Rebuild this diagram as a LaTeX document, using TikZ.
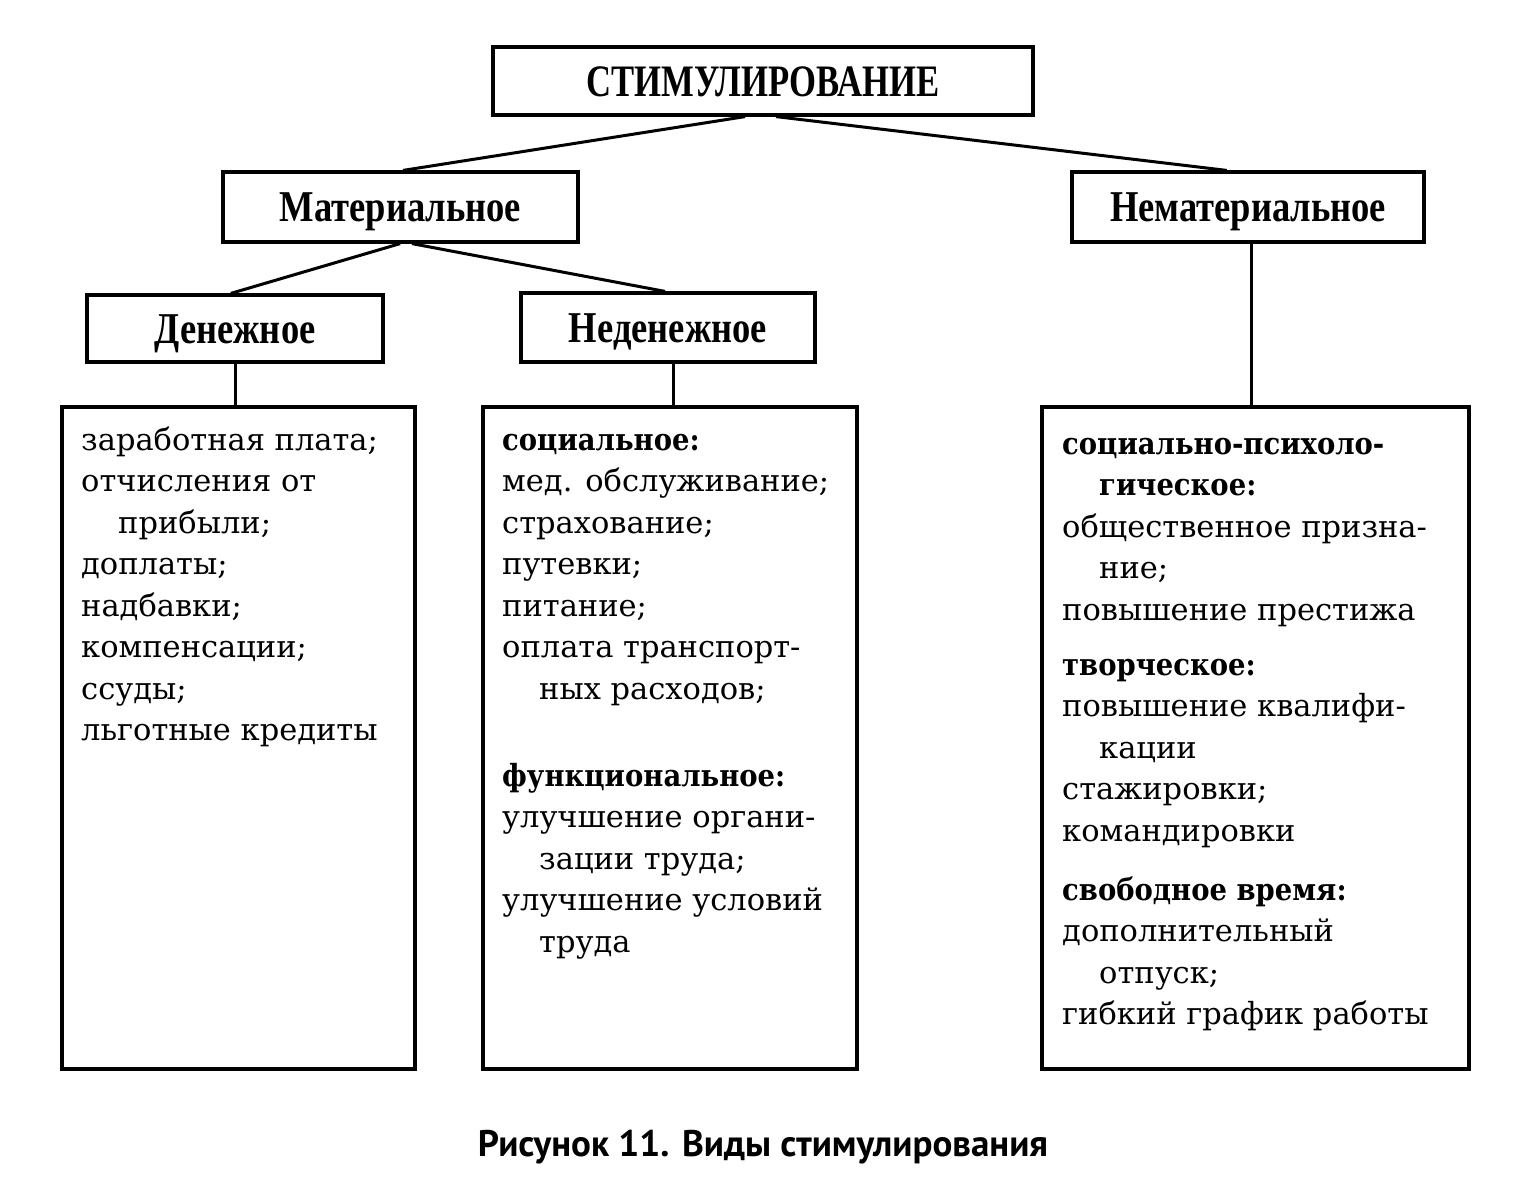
\documentclass[tikz,border=0pt]{standalone}
\usepackage{fontspec}
\setmainfont{DejaVu Serif}
\newfontfamily\bsub[FakeStretch=0.9]{DejaVu Serif}
\newfontfamily\hdfont[FakeStretch=0.83]{Liberation Serif}
\newfontfamily\ttlfont[FakeStretch=0.77]{Liberation Serif}
\newfontfamily\capfont{PT Sans}
\newcommand{\sub}[1]{{\bsub\bfseries #1}}
\usetikzlibrary{calc}
\begin{document}
\begin{tikzpicture}[x=1pt,y=-1pt,
  box/.style={draw, line width=3.2pt, inner sep=0pt},
  head/.style={box, font=\hdfont\bfseries\fontsize{44}{50}\selectfont, text height=29pt, text depth=0pt},
  link/.style={line width=3pt},
  body/.style={anchor=base west, inner sep=0pt, font=\fontsize{30.5}{41.5}\selectfont}]
\useasboundingbox[fill=white] (0,0) rectangle (1517,1195);
% top level
\node[box, font=\ttlfont\bfseries\fontsize{45}{50}\selectfont, text height=30pt, text depth=0pt,
      minimum width=540pt, minimum height=68pt] (stim) at (763,81) {СТИМУЛИРОВАНИЕ};
\node[head, minimum width=355pt, minimum height=70pt] (mat) at (400.5,207) {Материальное};
\node[head, minimum width=352pt, minimum height=70pt] (nemat) at (1248,207) {Нематериальное};
\node[head, minimum width=296pt, minimum height=67pt] (den) at (235,328.5) {Денежное};
\node[head, minimum width=294pt, minimum height=69pt] (neden) at (668,327.5) {Неденежное};
\node[box, minimum width=353pt, minimum height=662pt] (lbox) at (238.5,738) {};
\node[box, minimum width=374pt, minimum height=662pt] (mbox) at (670,738) {};
\node[box, minimum width=427pt, minimum height=662pt] (rbox) at (1255.5,738) {};
% connectors
\draw[link] ($(stim.south west)!0.467!(stim.south east)$) -- ($(mat.north west)!0.507!(mat.north east)$);
\draw[link] ($(stim.south west)!0.524!(stim.south east)$) -- ($(nemat.north west)!0.44!(nemat.north east)$);
\draw[link] ($(mat.south west)!0.499!(mat.south east)$) -- ($(den.north west)!0.486!(den.north east)$);
\draw[link] ($(mat.south west)!0.532!(mat.south east)$) -- ($(neden.north west)!0.49!(neden.north east)$);
\coordinate (dn) at ($(den.south west)!0.503!(den.south east)$);
\coordinate (nd) at ($(neden.south west)!0.517!(neden.south east)$);
\coordinate (nm) at ($(nemat.south west)!0.511!(nemat.south east)$);
\draw[link] (dn) -- (dn |- lbox.north);
\draw[link] (nd) -- (nd |- mbox.north);
\draw[link] (nm) -- (nm |- rbox.north);
% texts
\node[body] (ltxt) at (81,450) {\parbox[t]{330pt}{\raggedright
заработная плата;\\
отчисления от\\
\hspace*{37pt}прибыли;\\
доплаты;\\
надбавки;\\
компенсации;\\
ссуды;\\
льготные кредиты}};
\node[body] (mtxt) at (502,450) {\parbox[t]{350pt}{\raggedright
\sub{социальное:}\\
мед. обслуживание;\\
страхование;\\
путевки;\\
питание;\\
оплата транспорт-\\
\hspace*{37pt}ных расходов;\\[45.5pt]
\sub{функциональное:}\\
улучшение органи-\\
\hspace*{37pt}зации труда;\\
улучшение условий\\
\hspace*{37pt}труда}};
\node[body] (rtxt) at (1062,454) {\parbox[t]{400pt}{\raggedright
\sub{социально-психоло-}\\
\hspace*{37pt}\sub{гическое:}\\
общественное призна-\\
\hspace*{37pt}ние;\\
повышение престижа\\[13.5pt]
\sub{творческое:}\\
повышение квалифи-\\
\hspace*{37pt}кации\\
стажировки;\\
командировки\\[17.5pt]
\sub{свободное время:}\\
дополнительный\\
\hspace*{37pt}отпуск;\\
гибкий график работы}};
\node[font=\capfont\bfseries\fontsize{37}{42}\selectfont, anchor=base, inner sep=0pt] (cap) at (763,1156) {Рисунок 11. Виды стимулирования};
\end{tikzpicture}
\end{document}
